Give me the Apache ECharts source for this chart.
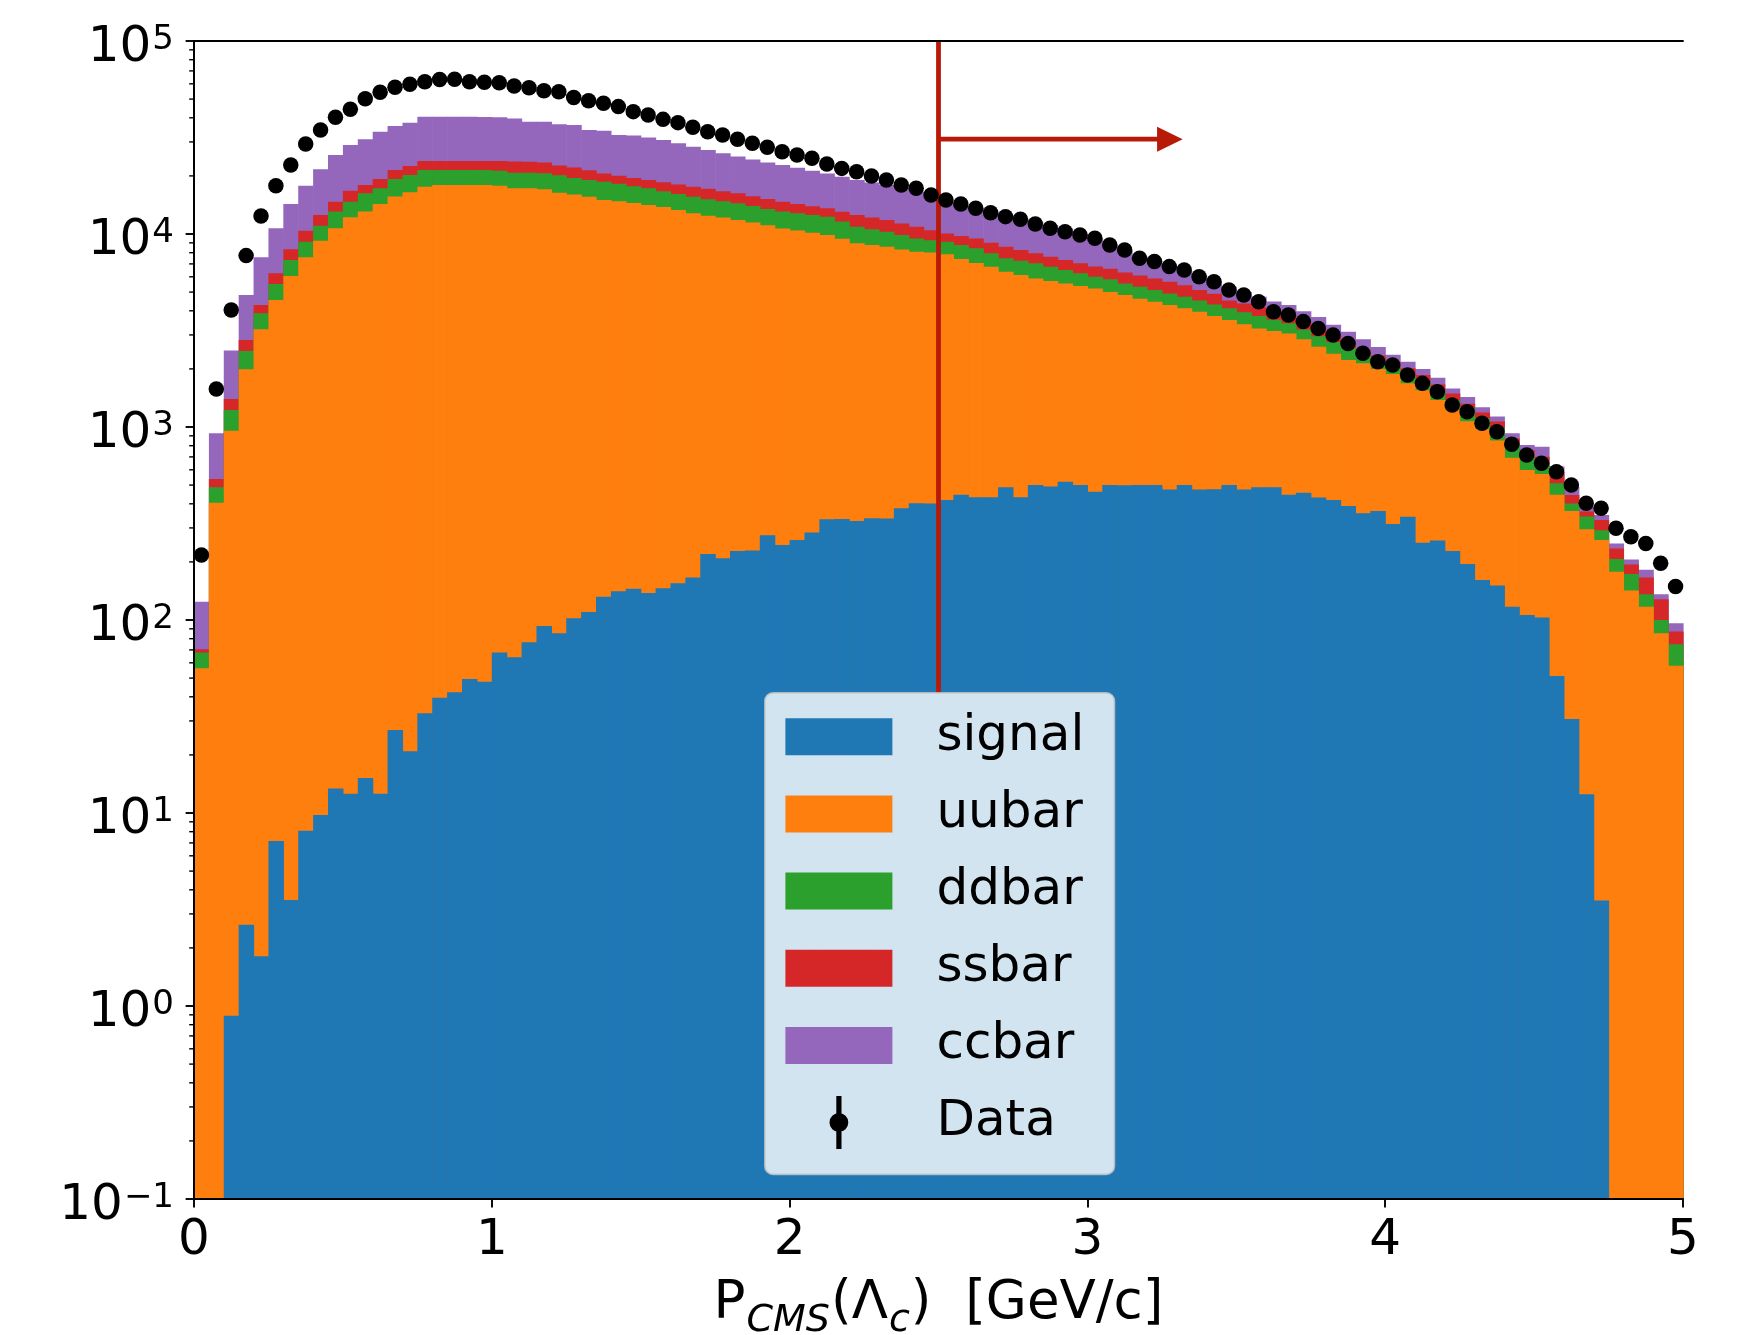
<!DOCTYPE html>
<html>
<head>
<meta charset="utf-8">
<script src="https://cdn.jsdelivr.net/npm/echarts@6/dist/echarts.min.js"></script>
<style>
html,body{margin:0;padding:0;background:#ffffff;}
#chart{width:1738px;height:1335px;}
</style>
</head>
<body>
<div id="chart"></div>
<script>
// ---------------- data (100 bins of 0.05 GeV/c from 0 to 5) ----------------
const binWidth = 0.05;
const xTicks = [0, 1, 2, 3, 4, 5];
const yTickExponents = [-1, 0, 1, 2, 3, 4, 5];
const legendNames = ['signal', 'uubar', 'ddbar', 'ssbar', 'ccbar', 'Data'];
const cutValue = 2.5;

const signal = [0, 0, 0.89, 2.64, 1.81, 7.16, 3.54, 8.09, 9.75, 13.4,
  12.6, 15.2, 12.6, 26.9, 20.9, 32.9, 39.6, 42.2, 49.4, 47.9,
  67.8, 64.1, 76.7, 93.1, 85.3, 102, 110, 132, 141, 145,
  138, 146, 155, 166, 220, 209, 228, 229, 275, 245,
  260, 284, 333, 334, 326, 337, 336, 379, 403, 402,
  419, 445, 433, 432, 487, 433, 500, 491, 521, 500,
  462, 500, 499, 501, 500, 475, 500, 475, 476, 500,
  475, 487, 487, 445, 457, 431, 419, 390, 357, 367,
  314, 343, 251, 258, 228, 195, 161, 151, 117, 106,
  103, 51.3, 30.7, 12.5, 3.52, 0, 0, 0, 0, 0];

const uubar = [56.2, 405, 956, 1988, 3204, 4543, 6049, 7560, 9216, 10702,
  12205, 13047, 14276, 15604, 16423, 17546, 17907, 17905, 17898, 17899,
  17715, 17194, 17181, 16968, 16283, 15930, 15486, 14865, 14650, 14309,
  13987, 13658, 13180, 12628, 12225, 11953, 11575, 11253, 10817, 10446,
  10163, 9878, 9553, 9107, 8628, 8433, 8254, 7939, 7688, 7615,
  7433, 6968, 6646, 6329, 5896, 5705, 5388, 5224, 5025, 4883,
  4762, 4512, 4332, 4123, 3957, 3810, 3621, 3479, 3282, 3081,
  2929, 2756, 2661, 2610, 2394, 2175, 1980, 1833, 1781, 1628,
  1570, 1340, 1298, 1122, 1002, 877, 816, 700, 575, 492,
  467, 394, 336, 283, 256, 178, 142, 117, 85.3, 57.9];

const ddbar = [11.6, 82, 267, 487, 676, 958, 1275, 1552, 1815, 2347,
  2471, 3193, 2969, 3644, 3786, 3849, 3481, 3481, 3481, 3481,
  3498, 3539, 3539, 3593, 3816, 3466, 3459, 3667, 3406, 3247,
  3133, 2868, 2771, 2802, 2691, 2629, 2618, 2482, 2398, 2371,
  2371, 2369, 2417, 2173, 1960, 1823, 1690, 1568, 1393, 1273,
  1268, 1357, 1354, 1182, 1099, 1123, 1159, 1046, 955, 869,
  788, 809, 715, 709, 672, 635, 611, 565, 557, 540,
  532, 515, 449, 388, 348, 345, 355, 336, 233, 193,
  134, 175, 169, 169, 150, 187, 132, 133, 130, 118,
  79, 66, 35, 48, 32, 29, 31, 19, 14.7, 16.9];

const ssbar = [2.7, 51, 172, 348, 403, 744, 1009, 1279, 1490, 1627,
  2060, 1692, 2017, 2203, 2261, 2450, 2450, 2450, 2450, 2450,
  2597, 2971, 2862, 2788, 2462, 2633, 2325, 1942, 1848, 1797,
  1797, 1863, 1966, 1983, 2004, 1881, 1834, 1740, 1681, 1627,
  1495, 1401, 1280, 1418, 1617, 1569, 1523, 1464, 1430, 1181,
  949, 1002, 1051, 1073, 1108, 999, 896, 860, 827, 795,
  764, 786, 764, 762, 759, 729, 701, 610, 583, 398,
  429, 411, 384, 359, 309, 285, 197, 151, 141, 156,
  155, 156, 144, 111, 113, 59, 80, 83, 51, 44,
  52, 75, 43, 21, 38, 28, 21, 30, 28, 12.3];

const ccbar = [54.0, 389, 1092, 2006, 3283, 4463, 5952, 7384, 9096, 10956,
  12158, 13027, 14609, 14830, 15266, 16673, 16673, 16673, 16673, 16487,
  16394, 15951, 14535, 14752, 14337, 14597, 13214, 13671, 12539, 12861,
  12568, 12155, 11440, 10735, 10087, 9510, 8922, 8618, 8325, 8062,
  7740, 7349, 7023, 6783, 6524, 6331, 6144, 5908, 5644, 5017,
  4352, 4224, 4099, 4016, 3941, 3763, 3645, 3496, 3363, 2953,
  2665, 2203, 1912, 1543, 1356, 1190, 1024, 966, 791, 814,
  647, 563, 486, 483, 473, 479, 437, 409, 339, 256,
  198, 164, 133, 139, 92, 111, 76, 65, 54, 47,
  90, 38, 46, 22, 20, 14, 12, 16, 8, 9.1];

const dataCounts = [217, 1574, 4036, 7727, 12388, 17783, 22803, 29242, 34594, 40272,
  44259, 50234, 54200, 57544, 59704, 61518, 63096, 63300, 61500, 61094,
  60814, 58479, 57280, 55208, 54576, 50933, 48978, 47534, 45709, 43053,
  41400, 39264, 37757, 35727, 33884, 32584, 30974, 29512, 28119, 26669,
  25645, 24660, 23067, 21878, 21038, 19999, 19055, 17947, 17258, 15922,
  14997, 14289, 13583, 12882, 12303, 11912, 11272, 10715, 10280, 9886,
  9506, 8770, 8260, 7482, 7194, 6776, 6501, 6012, 5662, 5129,
  4831, 4457, 3954, 3802, 3516, 3243, 2999, 2710, 2410, 2178,
  2094, 1858, 1683, 1524, 1300, 1199, 1045, 946, 813, 716,
  649, 586, 500, 403, 379, 299, 270, 249, 197, 149];

// cut annotation: vertical line at P = 2.5 and arrow pointing to the kept region
const cutLine = [[cutValue, 1e5], [cutValue, 41.9]];
const arrowLine = [[cutValue, 31000], [3.277, 31000]];

// ---------------- styling ----------------
const FONT = "'DejaVu Sans', sans-serif";
const COLORS = {signal: '#1f77b4', uubar: '#ff7f0e', ddbar: '#2ca02c', ssbar: '#d62728', ccbar: '#9467bd'};
const RED = '#b81a08';
const yMin = 0.1, yMax = 1e5;

const layers = [signal, uubar, ddbar, ssbar, ccbar];
const names = ['signal', 'uubar', 'ddbar', 'ssbar', 'ccbar'];
const cumulative = [];
let run = signal.map(() => 0);
layers.forEach(arr => { run = run.map((v, i) => v + arr[i]); cumulative.push(run.slice()); });

function histSeries(idx, z) {
  const name = names[idx];
  const color = COLORS[name];
  return {
    name: name, type: 'custom', coordinateSystem: 'cartesian2d', z: z, silent: true,
    itemStyle: {color: color},
    data: cumulative[idx].map((v, i) => [i * binWidth, v]),
    encode: {x: 0, y: 1},
    renderItem: function (params, api) {
      const x0 = api.value(0), top = api.value(1);
      if (!(top > yMin)) return null;
      const p0 = api.coord([x0, Math.min(top, yMax)]);
      const p1 = api.coord([x0 + binWidth, yMin]);
      return {type: 'rect', shape: {x: p0[0], y: p0[1], width: p1[0] - p0[0] + 0.6, height: p1[1] - p0[1]},
              style: {fill: color}};
    }
  };
}

const minorTicks = [];
for (let e = -1; e < 5; e++) for (let m = 2; m < 10; m++) minorTicks.push(m * Math.pow(10, e));

const chart = echarts.init(document.getElementById('chart'), null, {renderer: 'canvas'});
const option = {
  animation: false,
  backgroundColor: '#ffffff',
  grid: {left: 194, top: 41, width: 1489, height: 1158, containLabel: false, outerBoundsMode: 'none'},
  xAxis: [{
    type: 'value', min: 0, max: 5, interval: 1, z: 12,
    axisLine: {show: true, onZero: false, lineStyle: {color: '#000', width: 1.9}},
    axisTick: {show: true, length: 8.4, lineStyle: {color: '#000', width: 1.9}},
    axisLabel: {fontFamily: FONT, fontSize: 50, color: '#000', margin: 17,
      formatter: v => xTicks.indexOf(v) >= 0 ? String(v) : ''},
    splitLine: {show: false},
    name: '{n|P}{s|CMS}{n|(Λ}{s|c}{n|)  [GeV/c]}',
    nameLocation: 'middle', nameGap: 79,
    nameTextStyle: {
      rich: {
        n: {fontFamily: FONT, fontSize: 53, lineHeight: 53, verticalAlign: 'top', color: '#000'},
        s: {fontFamily: FONT, fontSize: 38, lineHeight: 40, padding: [24, 1, 0, 1], verticalAlign: 'top', fontStyle: 'italic', color: '#000'}
      }
    }
  }, {
    type: 'value', min: 0, max: 5, position: 'top', z: 12,
    axisLine: {show: true, onZero: false, lineStyle: {color: '#000', width: 1.9}},
    axisTick: {show: false}, axisLabel: {show: false}, splitLine: {show: false}
  }],
  yAxis: [{
    type: 'log', logBase: 10, min: yMin, max: yMax, splitNumber: 6, z: 12,
    axisLine: {show: true, lineStyle: {color: '#000', width: 1.9}},
    axisTick: {show: true, length: 8.4, lineStyle: {color: '#000', width: 1.9}},
    splitLine: {show: false},
    axisLabel: {
      margin: 20,
      formatter: function (v) {
        const e = Math.round(Math.log10(v));
        if (yTickExponents.indexOf(e) < 0) return '';
        return '{b|10}{s|' + (e < 0 ? '\u2212' + (-e) : String(e)) + '}';
      },
      rich: {
        b: {fontFamily: FONT, fontSize: 50, lineHeight: 56, padding: [10, 0, 0, 0], verticalAlign: 'top', color: '#000'},
        s: {fontFamily: FONT, fontSize: 34, lineHeight: 30, padding: [10, 0, 0, 1], verticalAlign: 'top', color: '#000'}
      }
    }
  }, {
    type: 'log', logBase: 10, min: yMin, max: yMax, position: 'right', z: 12,
    axisLine: {show: true, lineStyle: {color: '#000', width: 1.9}},
    axisTick: {show: false}, axisLabel: {show: false}, splitLine: {show: false}
  }],
  legend: [{
    data: ['signal', 'uubar', 'ddbar', 'ssbar', 'ccbar'],
    orient: 'vertical', left: 765, top: 693,
    itemWidth: 107, itemHeight: 37, itemGap: 27.2, icon: 'rect',
    padding: [18.7, 30, 103.7, 20.4],
    backgroundColor: 'rgba(255,255,255,0.8)', borderColor: 'rgba(204,204,204,0.8)', borderWidth: 1.9, borderRadius: 8,
    textStyle: {fontFamily: FONT, fontSize: 50, lineHeight: 50, color: '#000', padding: [0, 0, 0, 39]},
    selectedMode: false, z: 10
  }, {
    data: [{name: 'Data', icon: 'path://M-2.6,-26.5 L2.6,-26.5 L2.6,26.5 L-2.6,26.5 Z M-9.4,0 A9.4,9.4 0 1,1 9.4,0 A9.4,9.4 0 1,1 -9.4,0 Z'}],
    orient: 'vertical', left: 829.5, top: 1096,
    itemWidth: 107, itemHeight: 53, padding: 0, symbolKeepAspect: true,
    textStyle: {fontFamily: FONT, fontSize: 50, lineHeight: 50, color: '#000', padding: [0, 0, 0, 39]},
    selectedMode: false, z: 11
  }],
  series: [
    histSeries(4, 2),
    histSeries(3, 3),
    histSeries(2, 4),
    histSeries(1, 5),
    histSeries(0, 6),
    {
      name: 'Data', type: 'scatter', z: 8, silent: true,
      symbol: 'circle', symbolSize: 15.5,
      itemStyle: {color: '#000000', opacity: 1},
      data: dataCounts.map((v, i) => [(i + 0.5) * binWidth, v])
    },
    {
      name: 'cut', type: 'line', z: 7, silent: true, symbol: 'none',
      lineStyle: {color: RED, width: 4.8}, data: cutLine
    },
    {
      name: 'arrow', type: 'line', z: 7, silent: true, showSymbol: true,
      lineStyle: {color: RED, width: 4.8}, itemStyle: {color: RED, opacity: 1},
      data: [{value: arrowLine[0], symbol: 'none'},
             {value: arrowLine[1], symbol: 'path://M0,0 L10,5 L0,10 Z', symbolSize: [25.6, 25]}]
    },
    {
      name: 'minorTicks', type: 'custom', coordinateSystem: 'cartesian2d', z: 12, silent: true, clip: false,
      data: minorTicks.map(v => [0, v]),
      renderItem: function (params, api) {
        const p = api.coord([0, api.value(1)]);
        return {type: 'line', shape: {x1: p[0] - 4.8, y1: p[1], x2: p[0], y2: p[1]},
                style: {stroke: '#000', lineWidth: 1.4}};
      }
    }
  ]
};
chart.setOption(option);
</script>
</body>
</html>
